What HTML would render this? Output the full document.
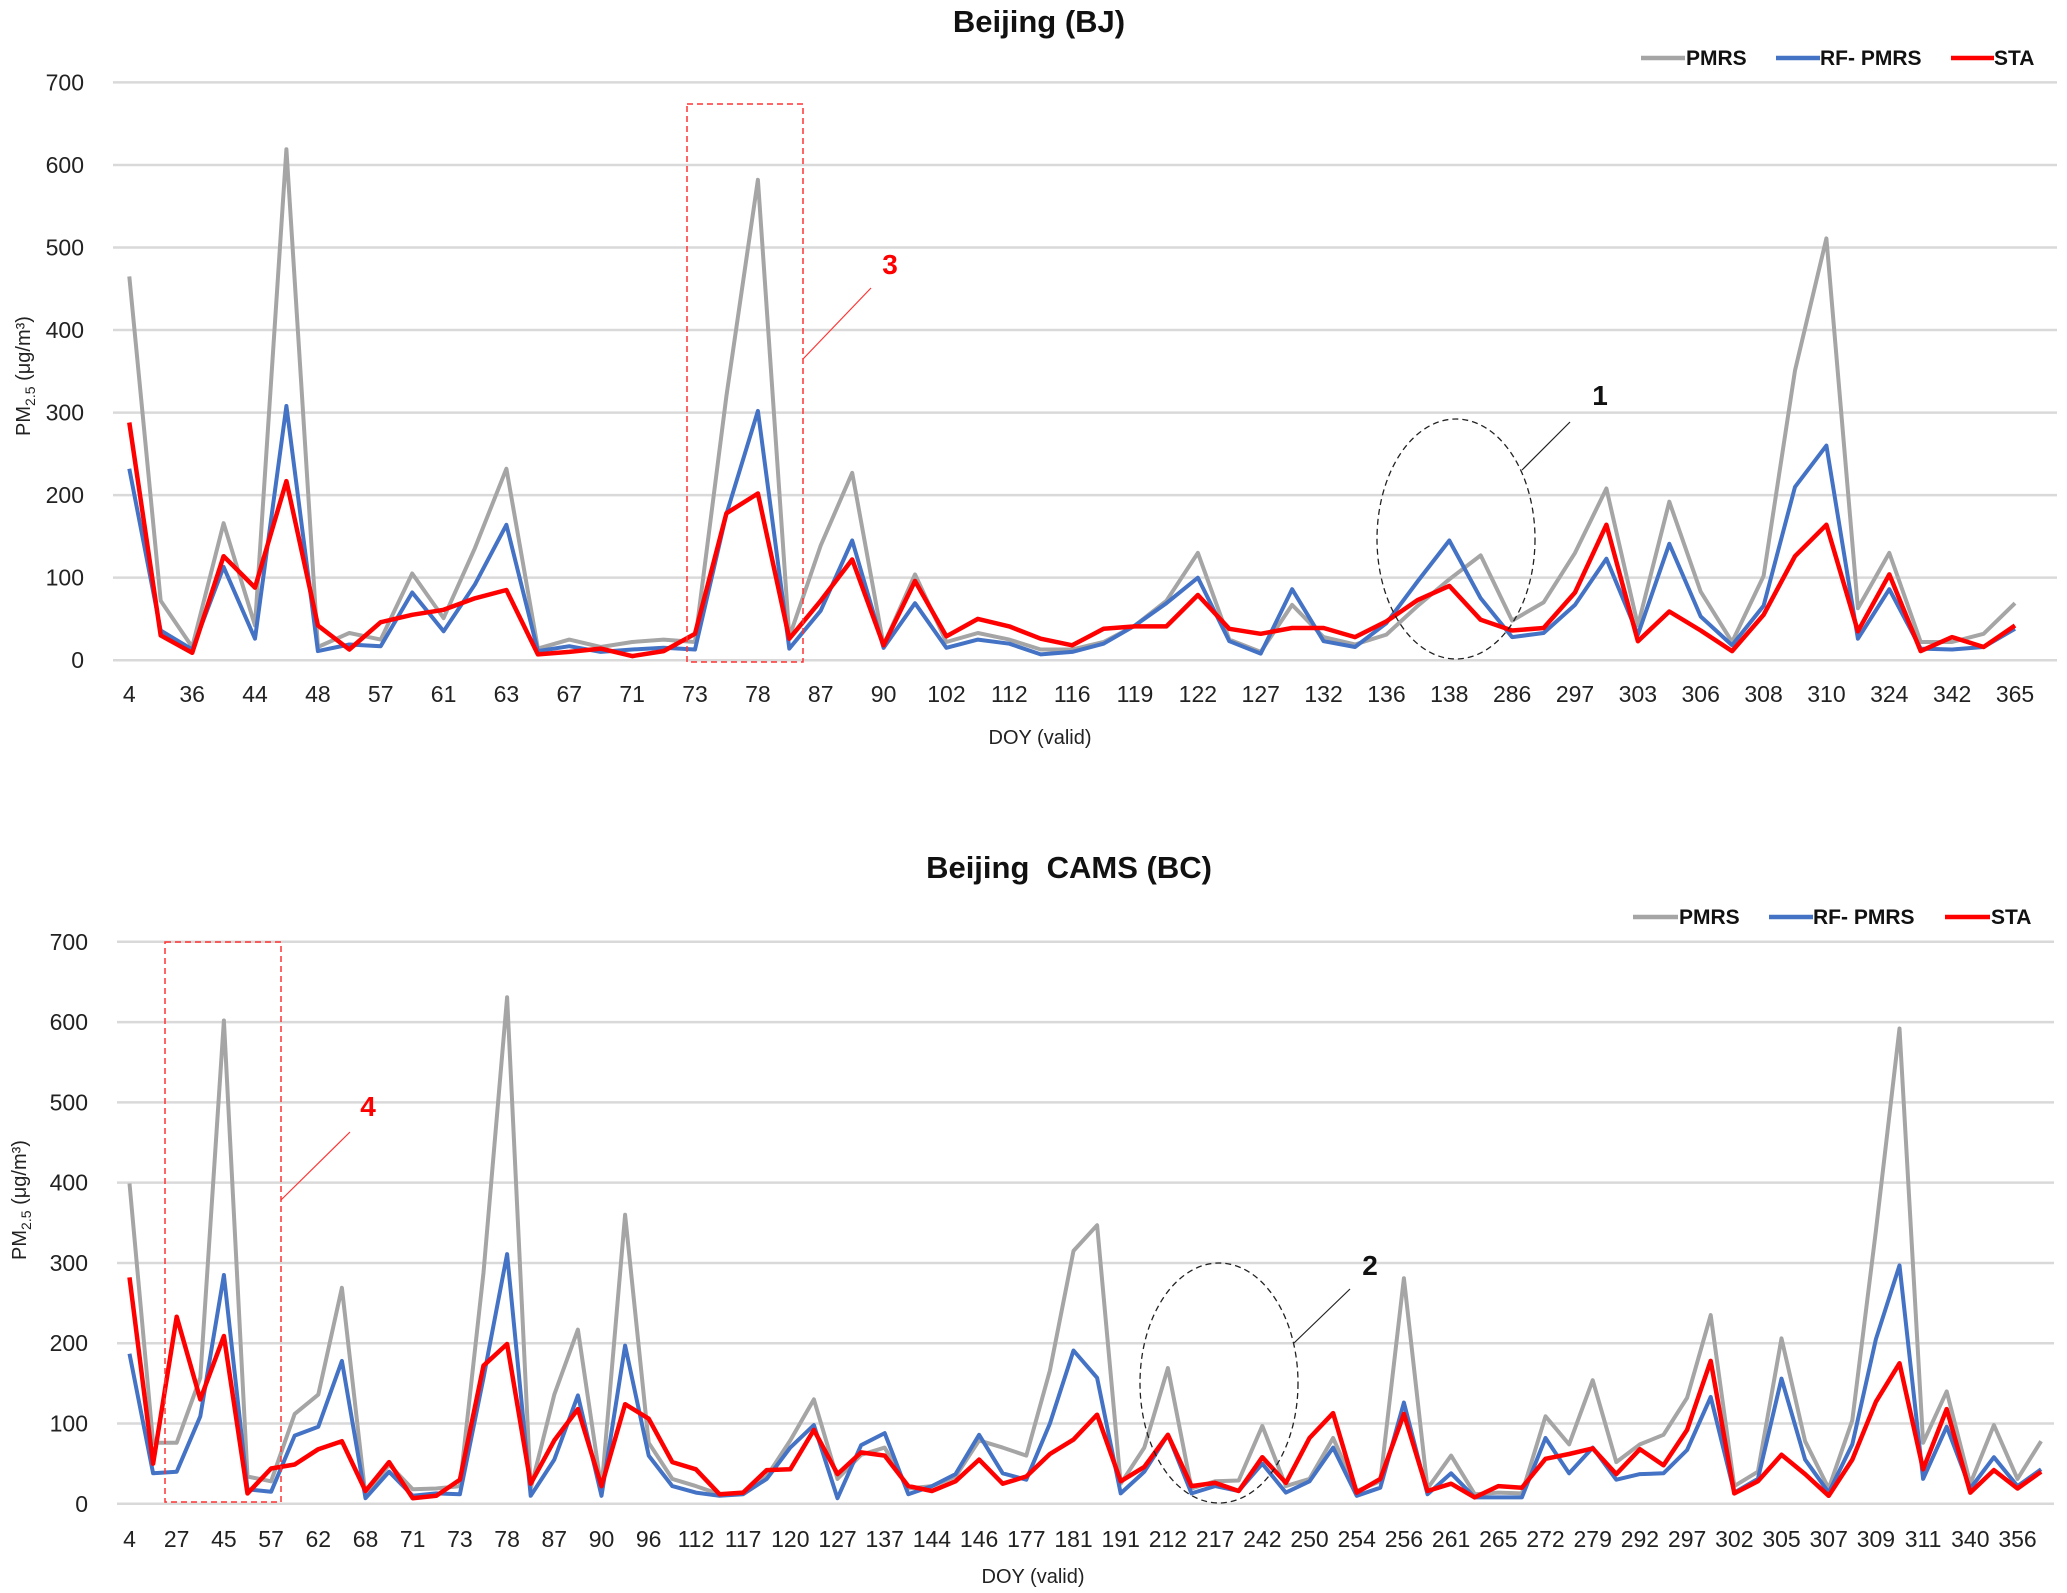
<!DOCTYPE html>
<html><head><meta charset="utf-8"><style>
html,body{margin:0;padding:0;background:#fff}
svg{display:block}
text{font-family:"Liberation Sans",sans-serif}
</style></head><body>
<svg id="chart" width="2067" height="1593" viewBox="0 0 2067 1593" xmlns="http://www.w3.org/2000/svg">
<g id="topChart"></g>
<g id="botChart"></g>
</svg>
<script>
// ---- Top chart data: Beijing (BJ) ----
const bjLabels = ["4","","36","","44","","48","","57","","61","","63","","67","","71","","73","","78","","87","","90","","102","","112","","116","","119","","122","","127","","132","","136","","138","","286","","297","","303","","306","","308","","310","","324","","342","","365"];
const bjPMRS = [465,72,16,166,42,619,16,33,25,105,51,136,232,14,25,16,22,25,22,320,582,28,139,227,18,104,22,33,25,13,13,22,42,72,130,25,10,67,28,19,31,66,98,127,48,70,130,208,42,192,83,22,102,351,511,63,130,22,22,32,69];
const bjRF = [232,36,13,113,26,308,11,19,17,82,35,92,164,11,17,10,13,15,13,177,302,14,60,145,15,69,15,25,20,7,10,20,42,69,100,23,8,86,23,16,45,96,145,75,28,33,67,123,31,141,53,18,66,210,260,26,86,14,13,16,38];
const bjSTA = [288,30,9,126,88,217,42,13,46,55,61,75,85,7,10,14,5,11,32,178,202,26,72,122,18,96,29,50,41,26,18,38,41,41,79,38,32,39,39,28,47,73,90,49,36,39,82,164,23,59,36,11,55,126,164,35,104,11,28,16,42];
// ---- Bottom chart data: Beijing CAMS (BC) ----
const bcLabels = ["4","","27","","45","","57","","62","","68","","71","","73","","78","","87","","90","","96","","112","","117","","120","","127","","137","","144","","146","","177","","181","","191","","212","","217","","242","","250","","254","","256","","261","","265","","272","","279","","292","","297","","302","","305","","307","","309","","311","","340","","356",""];
const bcPMRS = [399,76,76,157,602,34,28,112,136,269,10,49,18,19,22,288,631,19,136,217,18,360,76,31,22,12,13,34,79,130,31,61,70,19,22,34,79,70,60,166,315,347,25,70,169,19,28,29,97,22,31,82,16,28,281,19,60,12,14,13,109,74,154,52,74,86,132,235,22,40,206,78,19,104,340,592,76,140,25,98,31,78];
const bcRF = [187,38,40,109,285,18,15,85,96,178,7,40,10,13,12,157,311,10,55,135,10,197,60,22,14,10,12,31,70,98,7,73,88,12,22,37,86,38,30,100,191,157,13,40,86,13,22,16,50,14,28,70,10,20,126,12,38,8,8,8,82,38,70,30,37,38,67,133,14,31,156,55,14,74,205,297,31,96,19,58,22,43];
const bcSTA = [282,50,233,130,209,13,44,49,68,78,16,52,7,10,30,172,199,25,79,118,22,124,106,52,43,12,14,42,43,92,37,64,60,22,16,28,55,25,34,62,80,111,28,46,86,22,26,16,58,26,82,113,14,31,112,16,25,8,22,20,56,62,69,37,68,48,92,178,13,28,61,37,10,55,127,175,43,118,14,42,19,40];

const NS = "http://www.w3.org/2000/svg";
function mk(parent, tag, attrs, txt){
  const e = document.createElementNS(NS, tag);
  for (const k in attrs) e.setAttribute(k, attrs[k]);
  if (txt !== undefined) e.textContent = txt;
  parent.appendChild(e);
  return e;
}
const colors = {PMRS:"#a5a5a5", RF:"#4472c4", STA:"#ff0000"};

function drawChart(g, cfg){
  const {labels, series, x0, dx, yTop, yZero, gridL, gridR, tickX, xLabY} = cfg;
  const yScale = v => yZero - (v/700)*(yZero-yTop);
  const xScale = i => x0 + i*dx;
  for (let t=0; t<=700; t+=100){
    const y = yScale(t);
    const gl = mk(g, "line", {x1:gridL, x2:gridR, y1:y, y2:y, stroke:"#d9d9d9", "stroke-width":2.5});
    
    
    const tl = mk(g, "text", {x:tickX, y:y+8, "text-anchor":"end", "font-size":23, fill:"#222"}, String(t));
    
    
  }
  labels.forEach((l,i)=>{
    if (!l) return;
    const t = mk(g, "text", {x:xScale(i), y:xLabY, "text-anchor":"middle", "font-size":23, fill:"#222"}, l);
    
    
  });
  series.forEach(s=>{
    const pts = s.data.map((v,i)=>xScale(i).toFixed(1)+","+yScale(v).toFixed(1)).join(" ");
    const p = mk(g, "polyline", {points:pts, fill:"none", stroke:s.color, "stroke-width":s.w, "stroke-linejoin":"round"});
    
    
  });
}

const gTop = document.getElementById("topChart");
drawChart(gTop, {labels:bjLabels, x0:129.3, dx:(2015-129.3)/60, yTop:82.4, yZero:660.2, gridL:113, gridR:2057, tickX:84, xLabY:702,
  series:[{name:"pmrs",data:bjPMRS,color:colors.PMRS,w:4},{name:"rf-pmrs",data:bjRF,color:colors.RF,w:4},{name:"sta",data:bjSTA,color:colors.STA,w:4.5}]});
const gBot = document.getElementById("botChart");
drawChart(gBot, {labels:bcLabels, x0:129.5, dx:23.6, yTop:941.8, yZero:1503.8, gridL:117, gridR:2054, tickX:88, xLabY:1547,
  series:[{name:"pmrs",data:bcPMRS,color:colors.PMRS,w:4},{name:"rf-pmrs",data:bcRF,color:colors.RF,w:4},{name:"sta",data:bcSTA,color:colors.STA,w:4.5}]});

function legend(g, y, items){
  items.forEach(it=>{
    const l = mk(g, "line", {x1:it.lx1, x2:it.lx2, y1:y, y2:y, stroke:it.color, "stroke-width":4.5});
    
    
    const t = mk(g, "text", {x:it.tx, y:y+7, "font-size":21, "font-weight":"bold", fill:"#111"}, it.label);
    
    
  });
}
legend(gTop, 58, [
  {key:"pmrs", color:colors.PMRS, lx1:1641, lx2:1685, tx:1686, label:"PMRS"},
  {key:"rf-pmrs", color:colors.RF, lx1:1776, lx2:1820, tx:1820, label:"RF- PMRS"},
  {key:"sta", color:colors.STA, lx1:1951, lx2:1994, tx:1994, label:"STA"}]);
legend(gBot, 917, [
  {key:"pmrs", color:colors.PMRS, lx1:1633, lx2:1678, tx:1679, label:"PMRS"},
  {key:"rf-pmrs", color:colors.RF, lx1:1769, lx2:1813, tx:1813, label:"RF- PMRS"},
  {key:"sta", color:colors.STA, lx1:1945, lx2:1990, tx:1991, label:"STA"}]);
</script>
<svg style="position:absolute;left:0;top:0" width="2067" height="1593" viewBox="0 0 2067 1593" xmlns="http://www.w3.org/2000/svg">
  <text x="1039" y="32" text-anchor="middle" font-size="31" font-weight="bold" fill="#111">Beijing (BJ)</text>
  <text x="1069" y="878" text-anchor="middle" font-size="31" font-weight="bold" fill="#111" xml:space="preserve">Beijing  CAMS (BC)</text>
  <text x="1040" y="744" text-anchor="middle" font-size="20" fill="#222">DOY (valid)</text>
  <text x="1033" y="1583" text-anchor="middle" font-size="20" fill="#222">DOY (valid)</text>
  <text transform="translate(30,376) rotate(-90)" text-anchor="middle" font-size="20" fill="#222">PM<tspan font-size="14" dy="5">2.5</tspan><tspan dy="-5"> (μg/m³)</tspan></text>
  <text transform="translate(26,1200) rotate(-90)" text-anchor="middle" font-size="20" fill="#222">PM<tspan font-size="14" dy="5">2.5</tspan><tspan dy="-5"> (μg/m³)</tspan></text>
  <rect x="687" y="104" width="116" height="558" fill="none" stroke="#ff3333" stroke-width="1.5" stroke-dasharray="6,4"/>
  <line x1="803" y1="359" x2="871" y2="288" stroke="#ff3333" stroke-width="1.2"/>
  <text x="890" y="274" text-anchor="middle" font-size="28" font-weight="bold" fill="#ff0000">3</text>
  <ellipse cx="1456" cy="539" rx="79" ry="120" fill="none" stroke="#222" stroke-width="1.3" stroke-dasharray="6,4"/>
  <line x1="1522" y1="470" x2="1570" y2="422" stroke="#222" stroke-width="1.2"/>
  <text x="1600" y="405" text-anchor="middle" font-size="28" font-weight="bold" fill="#111">1</text>
  <rect x="165" y="942" width="116" height="560" fill="none" stroke="#ff3333" stroke-width="1.5" stroke-dasharray="6,4"/>
  <line x1="281" y1="1200" x2="350" y2="1132" stroke="#ff3333" stroke-width="1.2"/>
  <text x="368" y="1116" text-anchor="middle" font-size="28" font-weight="bold" fill="#ff0000">4</text>
  <ellipse cx="1219" cy="1383" rx="79" ry="120" fill="none" stroke="#222" stroke-width="1.3" stroke-dasharray="6,4"/>
  <line x1="1294" y1="1343" x2="1350" y2="1289" stroke="#222" stroke-width="1.2"/>
  <text x="1370" y="1275" text-anchor="middle" font-size="28" font-weight="bold" fill="#111">2</text>
</svg>
</body></html>
